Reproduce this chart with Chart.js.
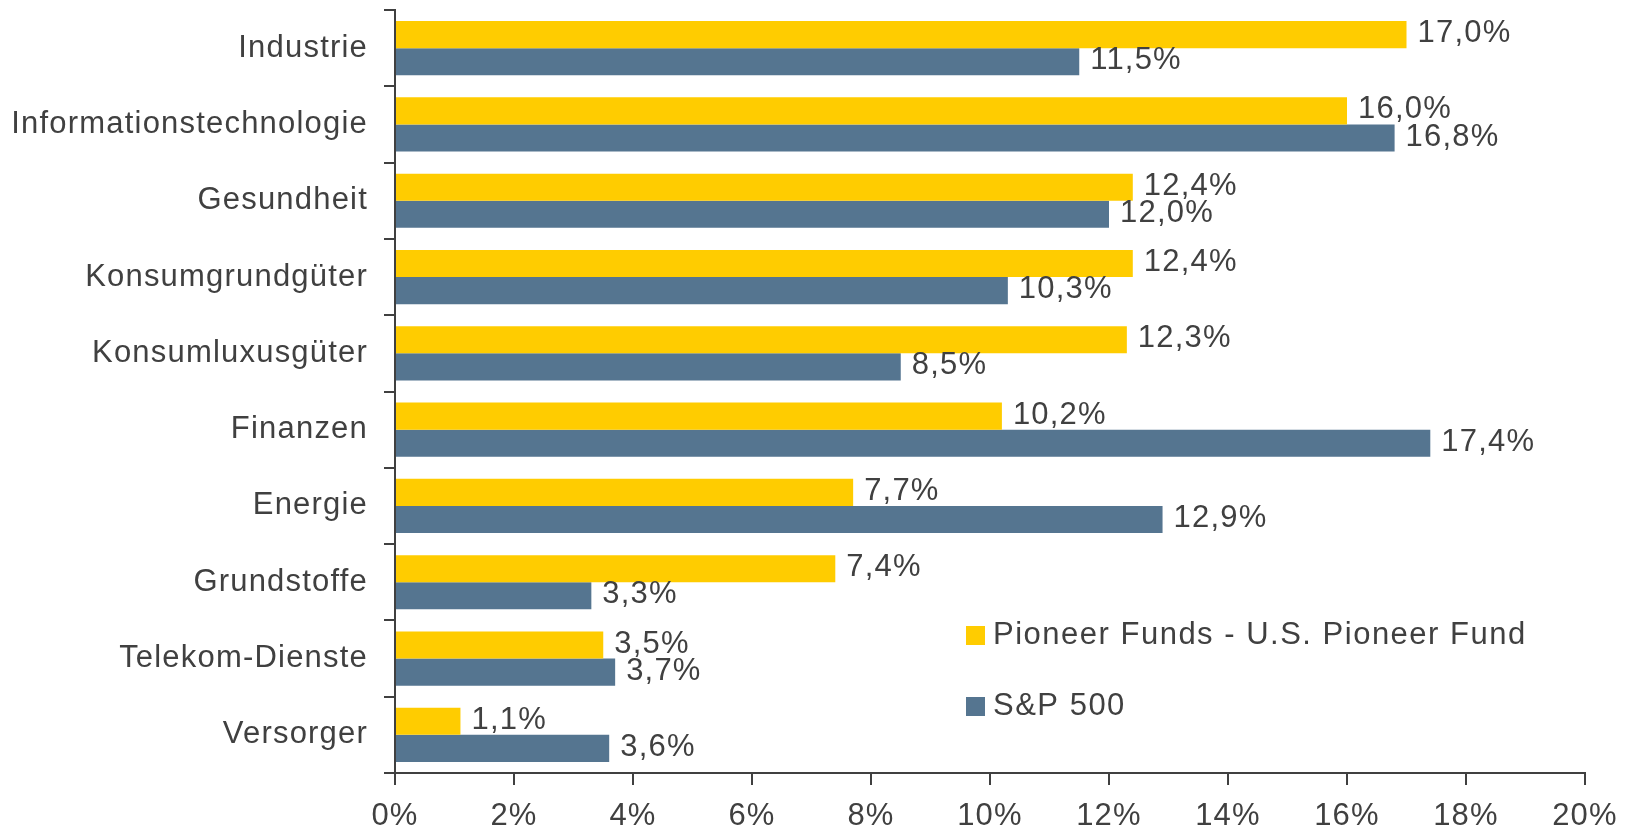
<!DOCTYPE html>
<html>
<head>
<meta charset="utf-8">
<script src="https://cdn.jsdelivr.net/npm/chart.js@4"></script>
<style>
  html, body { margin: 0; padding: 0; background: #fff; }
  #wrap { width: 1632px; height: 828px; }
</style>
</head>
<body>
<div id="wrap"><canvas id="chart" width="1632" height="828"></canvas></div>
<script>
// sector weights, in percent
const sectors = ['Industrie', 'Informationstechnologie', 'Gesundheit', 'Konsumgrundgüter',
  'Konsumluxusgüter', 'Finanzen', 'Energie', 'Grundstoffe', 'Telekom-Dienste', 'Versorger'];
const pioneerFund = [17.0, 16.0, 12.4, 12.4, 12.3, 10.2, 7.7, 7.4, 3.5, 1.1];
const sp500 = [11.5, 16.8, 12.0, 10.3, 8.5, 17.4, 12.9, 3.3, 3.7, 3.6];
const seriesNames = ['Pioneer Funds - U.S. Pioneer Fund', 'S&P 500'];

const INK = '#404040';
const FONT = { family: '"Liberation Sans", Arial, sans-serif', size: 31 };
const fmt = (v) => v.toFixed(1).replace('.', ',') + '%';

// canvas letter spacing (the source chart has slightly tracked text)
const spacing = {
  id: 'spacing',
  beforeUpdate(chart) { chart.ctx.letterSpacing = '1.2px'; },
  beforeDraw(chart) { chart.ctx.letterSpacing = '1.2px'; },
};

// value labels just right of each bar end
const valueLabels = {
  id: 'valueLabels',
  afterDatasetsDraw(chart) {
    const ctx = chart.ctx;
    ctx.save();
    ctx.font = `${FONT.size}px ${FONT.family}`;
    ctx.fillStyle = INK;
    ctx.textAlign = 'left';
    ctx.textBaseline = 'middle';
    chart.data.datasets.forEach((ds, i) => {
      chart.getDatasetMeta(i).data.forEach((bar, j) => {
        ctx.fillText(fmt(ds.data[j]), bar.x + 11, bar.y - 1);
      });
    });
    ctx.restore();
  },
};

// legend sits inside the plot, lower right
const insideLegend = {
  id: 'insideLegend',
  afterDraw(chart, args, opts) {
    const ctx = chart.ctx;
    ctx.save();
    ctx.font = `${FONT.size}px ${FONT.family}`;
    ctx.letterSpacing = '1.5px';
    ctx.textBaseline = 'middle';
    chart.data.datasets.forEach((ds, i) => {
      const y = opts.y + i * opts.rowGap;
      ctx.fillStyle = ds.backgroundColor;
      ctx.fillRect(opts.x, y - 9, 19, 19);
      ctx.fillStyle = INK;
      ctx.fillText(ds.label, opts.x + 27, y);
    });
    ctx.restore();
  },
};

new Chart(document.getElementById('chart'), {
  type: 'bar',
  data: {
    labels: sectors,
    datasets: [
      { label: seriesNames[0], data: pioneerFund, backgroundColor: '#FFCC00' },
      { label: seriesNames[1], data: sp500, backgroundColor: '#557590' },
    ],
  },
  options: {
    indexAxis: 'y',
    responsive: false,
    animation: false,
    devicePixelRatio: 1,
    categoryPercentage: 0.71,
    barPercentage: 1,
    layout: { padding: { top: 10, right: 47, left: 0, bottom: 0 } },
    plugins: {
      legend: { display: false },
      tooltip: { enabled: false },
      insideLegend: { x: 966, y: 635, rowGap: 71 },
    },
    scales: {
      x: {
        min: 0,
        max: 20,
        ticks: { stepSize: 2, color: INK, font: FONT, padding: 13, callback: (v) => v + '%' },
        grid: { drawOnChartArea: false, drawTicks: true, tickLength: 12, color: INK, lineWidth: 2 },
        border: { color: INK, width: 2 },
        afterFit: (s) => { s.height = 55; },
      },
      y: {
        ticks: { color: INK, font: FONT, padding: 16 },
        grid: { drawOnChartArea: false, drawTicks: true, tickLength: 11, color: INK, lineWidth: 2, offset: true },
        border: { color: INK, width: 2 },
        afterFit: (s) => { s.width = 395; s.paddingTop = 0; s.paddingBottom = 0; },
      },
    },
  },
  plugins: [spacing, valueLabels, insideLegend],
});
</script>
</body>
</html>
